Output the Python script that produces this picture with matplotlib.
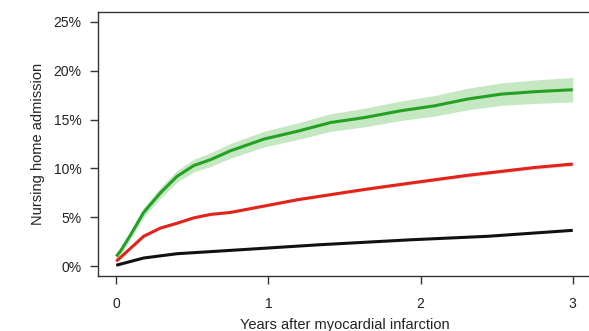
import matplotlib
matplotlib.use("Agg")
import matplotlib.pyplot as plt
import numpy as np

plt.rcParams["font.family"] = ["Liberation Sans", "DejaVu Sans"]

# years after MI, cumulative nursing home admission (%)
green_x = [0.0, 0.03, 0.09, 0.18, 0.29, 0.40, 0.51, 0.62, 0.75, 0.97, 1.19, 1.41,
           1.63, 1.87, 2.09, 2.31, 2.53, 2.75, 3.0]
green_y = [1.0, 1.6, 3.1, 5.5, 7.5, 9.2, 10.3, 10.9, 11.8, 13.0, 13.8, 14.7,
           15.2, 15.9, 16.4, 17.1, 17.6, 17.85, 18.05]
green_ci = [0.3, 0.35, 0.4, 0.5, 0.55, 0.6, 0.65, 0.7, 0.75, 0.8, 0.85, 0.9,
            0.95, 1.0, 1.05, 1.1, 1.15, 1.2, 1.25]

red_x = [0.0, 0.18, 0.29, 0.40, 0.51, 0.62, 0.75, 1.19, 1.63, 1.93, 2.31, 2.75, 3.0]
red_y = [0.5, 3.06, 3.9, 4.4, 4.95, 5.3, 5.5, 6.8, 7.85, 8.5, 9.3, 10.1, 10.45]
red_ci = [0.05, 0.08, 0.08, 0.1, 0.1, 0.1, 0.1, 0.12, 0.14, 0.15, 0.16, 0.17, 0.18]

black_x = [0.0, 0.18, 0.40, 0.73, 1.34, 1.93, 2.44, 3.0]
black_y = [0.1, 0.84, 1.28, 1.6, 2.2, 2.7, 3.06, 3.67]

y_ticks = [0, 5, 10, 15, 20, 25]
x_ticks = [0, 1, 2, 3]

fig = plt.figure(figsize=(5.89, 3.31), dpi=100)
ax = fig.add_axes([98 / 589, 55 / 331, 493 / 589, 264 / 331])

gx, gy, gc = np.array(green_x), np.array(green_y), np.array(green_ci)
ax.fill_between(gx, gy - gc, gy + gc, color="#9fd89a", alpha=0.6, lw=0)
rx, ry, rc = np.array(red_x), np.array(red_y), np.array(red_ci)
ax.fill_between(rx, ry - rc, ry + rc, color="#f5a0a0", alpha=0.6, lw=0)

ax.plot(black_x, black_y, color="#111111", lw=2.2, solid_capstyle="butt")
ax.plot(red_x, red_y, color="#e2231a", lw=2.2, solid_capstyle="butt")
ax.plot(green_x, green_y, color="#24a124", lw=2.2, solid_capstyle="butt")

ax.set_xlim(-0.12, 3.12)
ax.set_ylim(-1, 26)
ax.set_yticks(y_ticks)
ax.set_yticklabels([f"{v}%" for v in y_ticks])
ax.set_xticks(x_ticks)
ax.set_xticklabels([str(v) for v in x_ticks])

for s in ax.spines.values():
    s.set_color("#333333")
    s.set_linewidth(1.0)
ax.tick_params(direction="out", length=6, width=1, color="#333333",
               labelsize=10, labelcolor="#222222")
ax.tick_params(axis="y", pad=6)
ax.tick_params(axis="x", pad=9)

ax.set_ylabel("Nursing home admission", fontsize=10.5, color="#222222", labelpad=6)
ax.set_xlabel("Years after myocardial infarction", fontsize=10.5, color="#222222",
              labelpad=5)

fig.savefig("out.png", dpi=100)
